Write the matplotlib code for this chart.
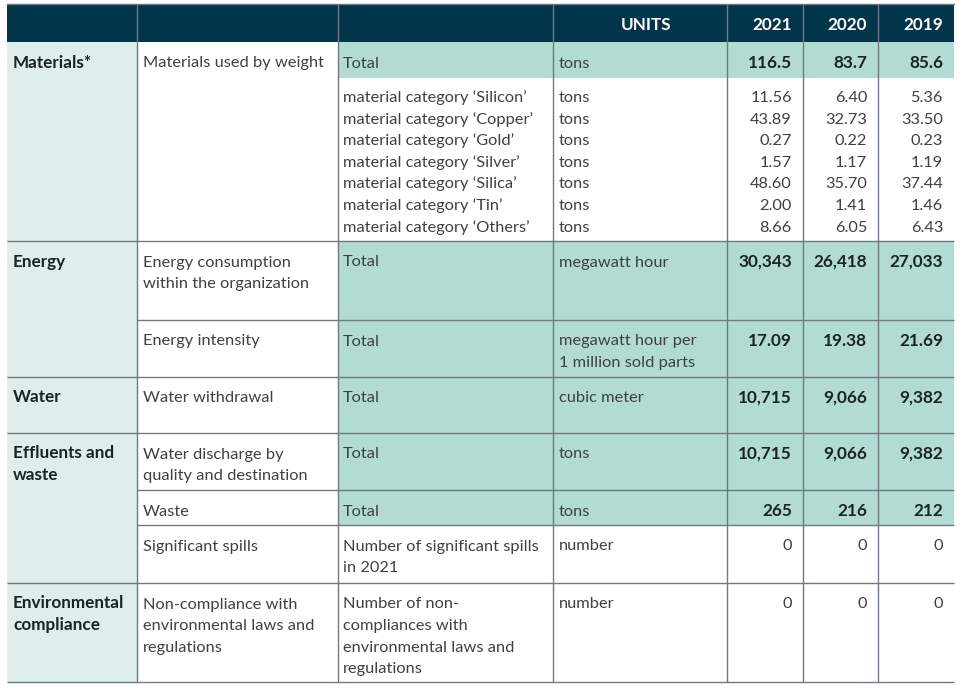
import matplotlib.pyplot as plt
from matplotlib.patches import Rectangle

plt.rcParams['font.family'] = ['Lato', 'DejaVu Sans']

# ---- data ----
years = ['2021', '2020', '2019']
units_header = 'UNITS'

row_category = ['Materials*', '', 'Energy', '', 'Water', 'Effluents and\nwaste', '', '',
                'Environmental\ncompliance']
row_indicator = ['Materials used by weight', '', 'Energy consumption\nwithin the organization',
                 'Energy intensity', 'Water withdrawal', 'Water discharge by\nquality and destination',
                 'Waste', 'Significant spills',
                 'Non-compliance with\nenvironmental laws and\nregulations']
row_metric = ['Total', None, 'Total', 'Total', 'Total', 'Total', 'Total',
              'Number of significant spills\nin 2021',
              'Number of non-\ncompliances with\nenvironmental laws and\nregulations']
row_unit = ['tons', None, 'megawatt hour', 'megawatt hour per\n1 million sold parts', 'cubic meter',
            'tons', 'tons', 'number', 'number']
row_2021 = [116.5, None, 30343, 17.09, 10715, 10715, 265, 0, 0]
row_2020 = [83.7, None, 26418, 19.38, 9066, 9066, 216, 0, 0]
row_2019 = [85.6, None, 27033, 21.69, 9382, 9382, 212, 0, 0]
row_fmt = ['{:.1f}', None, '{:,.0f}', '{:.2f}', '{:,.0f}', '{:,.0f}', '{:,.0f}', '{:.0f}', '{:.0f}']
row_highlight = [True, False, True, True, True, True, True, False, False]

material_names = ['Silicon', 'Copper', 'Gold', 'Silver', 'Silica', 'Tin', 'Others']
material_unit = 'tons'
material_2021 = [11.56, 43.89, 0.27, 1.57, 48.60, 2.00, 8.66]
material_2020 = [6.40, 32.73, 0.22, 1.17, 35.70, 1.41, 6.05]
material_2019 = [5.36, 33.50, 0.23, 1.19, 37.44, 1.46, 6.43]

# ---- layout ----
NAVY = '#04364b'
MINT = '#ddeeeb'
GREEN = '#b2dbd3'
GRID = '#6f7883'
TXT = '#404040'
BOLD_TXT = '#1b2228'

col_x = [7, 137, 338, 553, 727, 803, 878, 954]
row_y = [42, 78, 241, 320, 377, 433, 490, 525, 583, 682]
header_top = 4
fs = 11.8
fs_bold = 12.3
line_h = 21.6
base_off = 25.5

fig = plt.figure(figsize=(9.64, 6.88), dpi=100)
ax = fig.add_axes([0, 0, 1, 1])
ax.set_xlim(0, 964)
ax.set_ylim(688, 0)
ax.axis('off')

# backgrounds
ax.add_patch(Rectangle((col_x[0], header_top), col_x[-1] - col_x[0], row_y[0] - header_top,
                       color=NAVY, lw=0))
ax.add_patch(Rectangle((col_x[0], row_y[0]), col_x[1] - col_x[0], row_y[-1] - row_y[0],
                       color=MINT, lw=0))
for i, hl in enumerate(row_highlight):
    if hl:
        ax.add_patch(Rectangle((col_x[2], row_y[i]), col_x[-1] - col_x[2], row_y[i + 1] - row_y[i],
                               color=GREEN, lw=0))


def put(x, top, text, ha='left', weight='normal', color=TXT, k0=0):
    size = fs_bold if weight == 'bold' else fs
    for k, line in enumerate(text.split('\n')):
        ax.text(x, top + base_off + (k + k0) * line_h, line, ha=ha, va='baseline',
                fontsize=size, fontweight=weight, color=color)


# header
put(646, header_top + 1, units_header, ha='center', weight='bold', color='white')
for j, yr in enumerate(years):
    put(col_x[4 + j + 1] - 11, header_top + 1, yr, ha='right', weight='bold', color='white')

# body rows
for i in range(len(row_category)):
    top = row_y[i]
    if row_category[i]:
        put(col_x[0] + 6, top, row_category[i], weight='bold', color=BOLD_TXT)
    if row_indicator[i]:
        put(col_x[1] + 6, top, row_indicator[i])
    if row_metric[i] is None:
        # material breakdown lines
        for k, name in enumerate(material_names):
            put(col_x[2] + 5, top - 1.5, 'material category \u2018' + name + '\u2019', k0=k)
            put(col_x[3] + 6, top - 1.5, material_unit, k0=k)
            for j, vals in enumerate([material_2021, material_2020, material_2019]):
                put(col_x[4 + j + 1] - 11, top - 1.5, '{:.2f}'.format(vals[k]), ha='right', k0=k)
        continue
    put(col_x[2] + 5, top, row_metric[i])
    put(col_x[3] + 6, top, row_unit[i])
    w = 'bold' if row_highlight[i] else 'normal'
    c = BOLD_TXT if row_highlight[i] else TXT
    for j, vals in enumerate([row_2021, row_2020, row_2019]):
        put(col_x[4 + j + 1] - 11, top, row_fmt[i].format(vals[i]), ha='right', weight=w, color=c)

# grid lines
for x in col_x[1:-1]:
    ax.plot([x, x], [header_top, row_y[-1]], color=GRID, lw=1, solid_capstyle='butt')
ax.plot([col_x[0], col_x[-1]], [header_top, header_top], color=GRID, lw=1)
for i in range(2, len(row_y)):
    start = col_x[0] if (i == len(row_y) - 1 or row_category[i]) else col_x[1]
    ax.plot([start, col_x[-1]], [row_y[i], row_y[i]], color=GRID, lw=1, solid_capstyle='butt')

fig.savefig('out.png', dpi=100, facecolor='white')
